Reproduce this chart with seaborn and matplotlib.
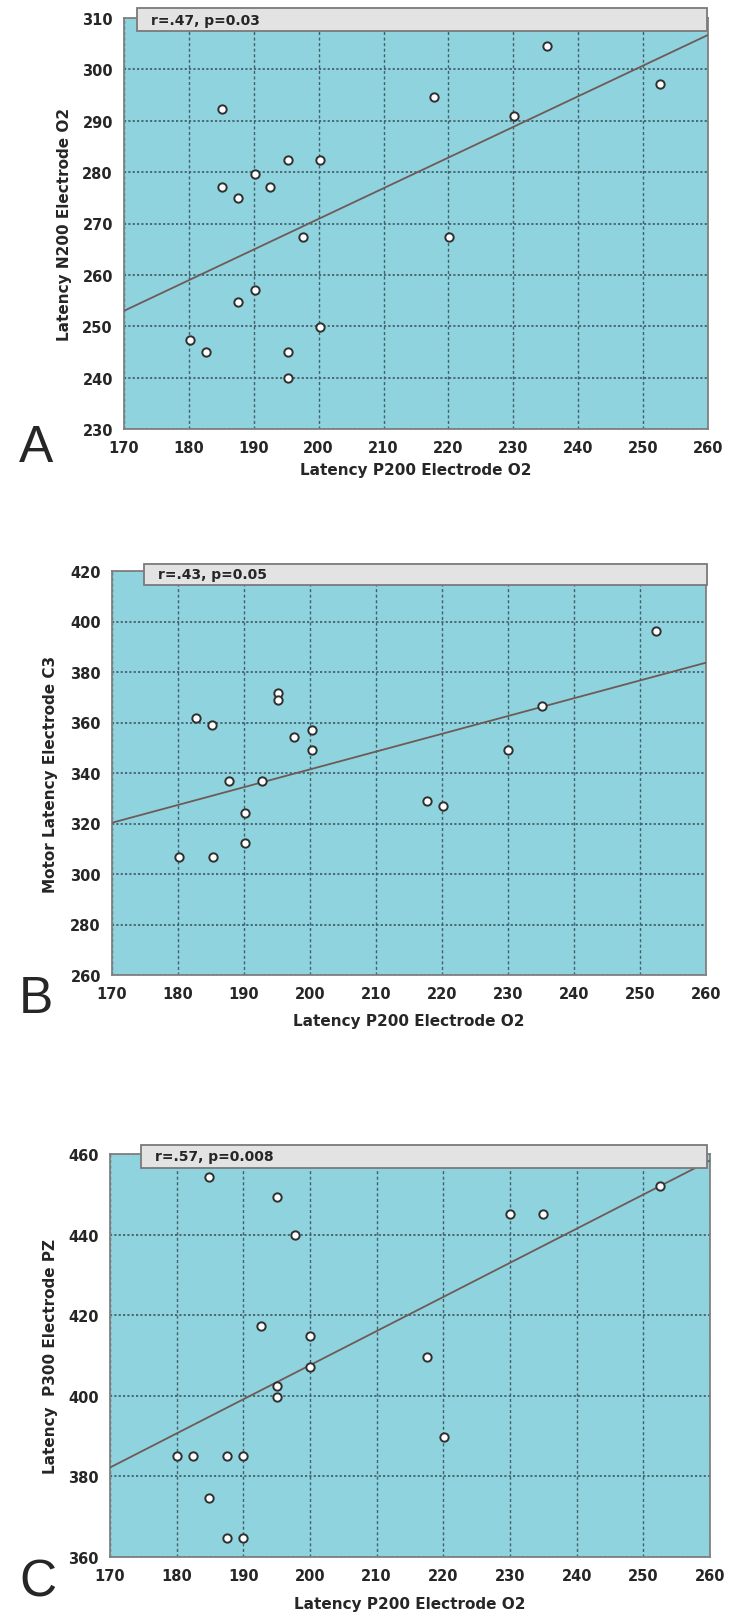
import matplotlib
matplotlib.use("Agg")
import matplotlib.pyplot as plt
import seaborn as sns
import pandas as pd
from matplotlib.patches import Rectangle

# panel A: P200 O2 vs N200 O2
a_x = [180.2, 182.7, 185.1, 185.1, 187.6, 187.6, 190.2, 190.2, 192.5, 195.2,
       195.2, 195.2, 197.6, 200.2, 200.2, 217.7, 220.1, 230.1, 235.2, 252.6]
a_y = [247.3, 245.0, 292.3, 277.2, 274.9, 254.7, 279.7, 257.1, 277.2, 282.3,
       245.0, 239.9, 267.3, 282.3, 249.8, 294.6, 267.3, 290.9, 304.5, 297.1]

# panel B: P200 O2 vs motor latency C3
b_x = [182.7, 185.2, 180.1, 185.3, 187.7, 190.1, 190.1, 192.8, 195.2, 195.2,
       197.6, 200.3, 200.3, 217.7, 220.1, 230.0, 235.1, 252.4]
b_y = [361.7, 359.2, 306.6, 306.9, 337.0, 324.1, 312.4, 337.0, 371.6, 369.1,
       354.1, 356.9, 349.3, 329.1, 327.0, 349.2, 366.6, 396.2]

# panel C: P200 O2 vs P300 PZ
c_x = [184.9, 195.1, 197.7, 230.0, 235.0, 252.5, 192.6, 200.0, 200.0, 217.5,
       195.1, 195.1, 220.1, 180.0, 182.5, 187.6, 190.0, 184.9, 187.5, 190.0]
c_y = [454.4, 449.4, 440.0, 445.0, 445.0, 452.0, 417.3, 414.9, 407.2, 409.7,
       402.4, 399.7, 389.8, 385.0, 385.0, 385.0, 385.0, 374.6, 364.8, 364.8]

# fitted lines as drawn in the figure (values at x = 170 and x = 260)
fit_x = [170, 260]
a_fit = [253.0, 306.7]
b_fit = [320.3, 383.7]
c_fit = [382.2, 458.4]

x_ticks = list(range(170, 261, 10))
a_ticks = list(range(230, 311, 10))
b_ticks = list(range(260, 421, 20))
c_ticks = list(range(360, 461, 20))

x_label = "Latency P200 Electrode O2"
y_labels = ["Latency N200 Electrode O2", "Motor Latency Electrode C3",
            "Latency  P300 Electrode PZ"]
stats = ["r=.47, p=0.03", "r=.43, p=0.05", "r=.57, p=0.008"]
letters = ["A", "B", "C"]

sns.set_style("white")
plt.rcParams["font.family"] = ["Liberation Sans Narrow", "DejaVu Sans"]

W, H = 731, 1615
BG = "#8fd3df"
GRID = "#46606a"

fig = plt.figure(figsize=(W / 100, H / 100), dpi=100)
fig.patch.set_facecolor("white")

# pixel layout: left, right, top, bottom, box left, letter baseline,
# ylabel right edge, xlabel top
layout = [
    (124, 708, 19, 430, 137, 462, 72, 463),
    (112, 706, 572, 976, 144, 1013, 58, 1014),
    (110, 710, 1155, 1558, 141, 1597, 58, 1597),
]
boxes = [(9, 32), (565, 586), (1146, 1169)]

panels = [(a_x, a_y, a_fit, a_ticks), (b_x, b_y, b_fit, b_ticks),
          (c_x, c_y, c_fit, c_ticks)]

for i, ((xs, ys, fit, yt), (l, r, t, b, bl, lb, yl, xl)) in enumerate(zip(panels, layout)):
    ax = fig.add_axes([l / W, 1 - b / H, (r - l) / W, (b - t) / H])
    ax.set_facecolor(BG)
    df = pd.DataFrame({"x": xs, "y": ys})
    fit_df = pd.DataFrame({"x": fit_x, "y": fit})

    sns.lineplot(data=fit_df, x="x", y="y", ax=ax, color="#6e5a56", lw=1.3,
                 zorder=3)
    sns.scatterplot(data=df, x="x", y="y", ax=ax, s=36, color="white",
                    edgecolor="#303030", linewidth=1.4, zorder=4)
    ax.set_xlim(170, 260)
    ax.set_ylim(yt[0], yt[-1])

    ax.set_xticks(x_ticks)
    ax.set_yticks(yt)
    ax.xaxis.grid(True, linestyle=(0, (2.2, 1.8)), color=GRID, lw=1.0)
    ax.yaxis.grid(True, linestyle=(0, (1.2, 1.2)), color=GRID, lw=1.3)
    ax.set_axisbelow(True)
    for s in ax.spines.values():
        s.set_color("#808080")
        s.set_linewidth(1.3)
    ax.tick_params(length=0, labelsize=10.5, pad=8)
    for lab in ax.get_xticklabels() + ax.get_yticklabels():
        lab.set_fontweight("bold")

    h = b - t
    w = r - l
    ax.set_xlabel(x_label, fontsize=11, fontweight="bold")
    ax.xaxis.set_label_coords(0.5, (b - xl) / h)
    ax.set_ylabel(y_labels[i], fontsize=11, fontweight="bold")
    ax.yaxis.set_label_coords((yl - l) / w, 0.5)

    # statistics box straddling the top edge
    box_top, box_bot = boxes[i]
    x0 = (bl - l) / w
    x1 = (707 - l) / w
    y0 = (b - box_bot) / h
    y1 = (b - box_top) / h
    ax.add_patch(Rectangle((x0, y0), x1 - x0, y1 - y0, transform=ax.transAxes,
                           facecolor="#e3e3e3", edgecolor="#7a7a7a", lw=1.3,
                           clip_on=False, zorder=6))
    ax.text(x0 + 14 / w, (y0 + y1) / 2, stats[i], transform=ax.transAxes,
            fontsize=10, fontweight="bold", va="center", ha="left", zorder=7)

    fig.text(19 / W, 1 - lb / H, letters[i], fontsize=37,
             family=["Liberation Sans", "DejaVu Sans"], va="baseline", ha="left")

fig.savefig("out.png", dpi=100, facecolor="white")
